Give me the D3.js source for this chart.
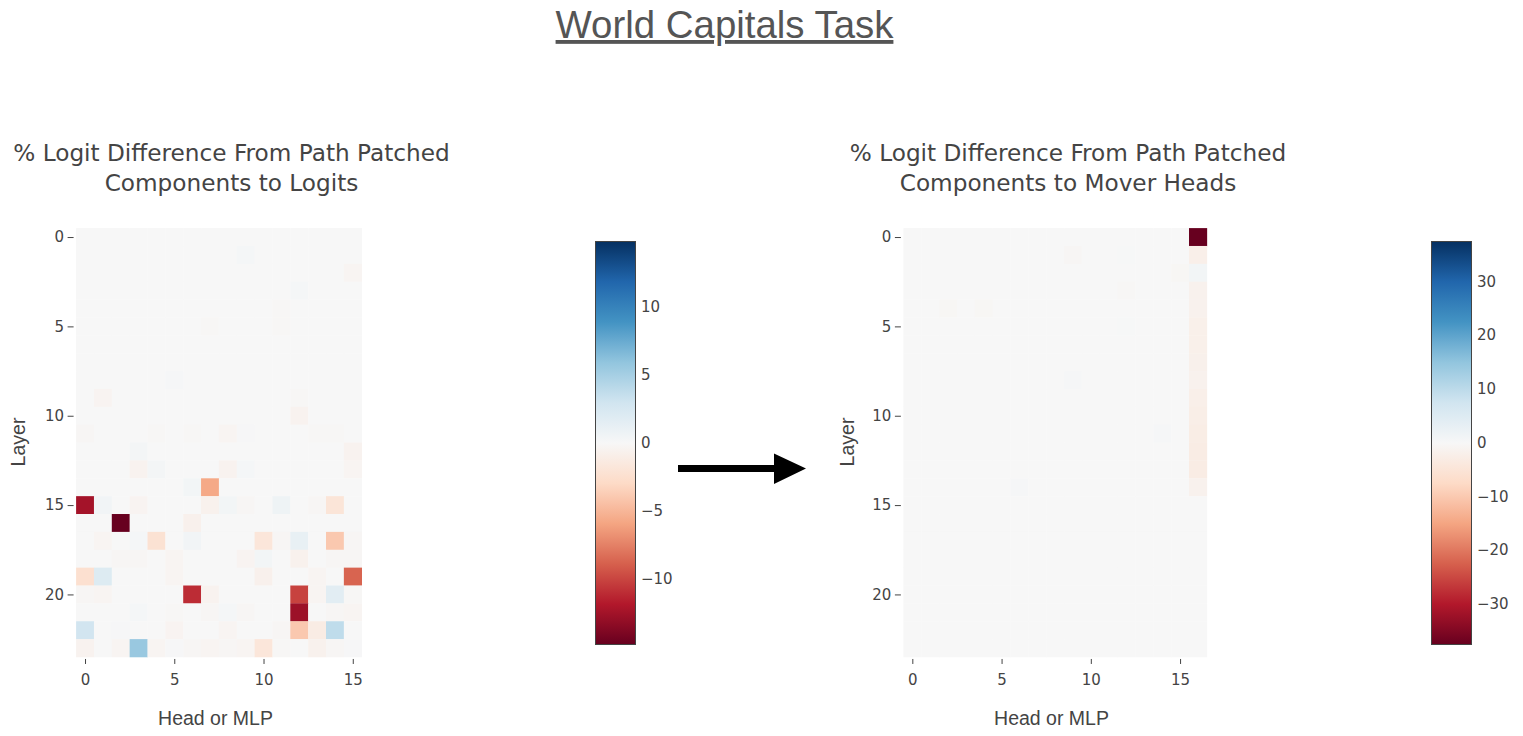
<!DOCTYPE html>
<html>
<head>
<meta charset="utf-8">
<script src="https://cdn.jsdelivr.net/npm/d3@7"></script>
<style>
  body { margin: 0; background: #fff; }
</style>
</head>
<body>
<div id="chart"></div>
<script>
// ---- data ----
var headTicks = [0, 5, 10, 15];
var layerTicks = [0, 5, 10, 15, 20];
var logitTicks = [-10, -5, 0, 5, 10];
var moverTicks = [-30, -20, -10, 0, 10, 20, 30];
var logitRange = 14.8;
var moverRange = 37.5;

// rows = layer 0..23, cols = head 0..15
var logitValues = [
  [0,0,0,0,0,0,0,0,0,0,0,0,0,0,0,0],
  [0,0,0,0,0,0,0,0,0,0.2,0,0,0,0,0,0],
  [0,0,0,0,0,0,0,0,0,0,0,0,0,0,0,-0.3],
  [0,0,0,0,0,0,0,0,0,0,0,0,0.2,0,0,0],
  [0,0,0,0,0,0,0,0,0,0,0,-0.1,0,0,0,0],
  [0,0,0,0,0,0,0,-0.1,0,0,0,-0.1,0,0,0,0],
  [0,0,0,0,0,0,0,0,0,0,0,0,0,0,0,0],
  [0,0,0,0,0,0,0,0,0,0,0,0,0,0,0,0],
  [0,0,0,0,0,0.15,0,0,0,0,0,0,0,0,0,0],
  [0,-0.4,0,0,0,0,0,0,0,0,0,0,-0.1,0,0,0],
  [0,0,0,0,0,0,0,0,0,0,0,0,-0.5,0,0,0],
  [-0.2,0,0,0,-0.1,0,-0.1,0,-0.3,0.1,0,0,0,-0.15,-0.15,0],
  [0,0,0,0.3,0,0,0,0,0,0,0,0,0,0,0,-0.5],
  [0,0,0,-0.5,0.3,0,0,0,-0.5,0.2,0,0,0,0,0,-0.3],
  [0,0,0,0,0,0,0.4,-5.7,0,0,0,0,0,0,0,0],
  [-12.4,0.5,0,-0.4,0,0,0,-0.6,0.4,-0.2,0,0.7,0,-0.2,-1.9,0],
  [0,0,-14.8,0,0,0,-0.7,0,0,0,0,0,0,0,0,0],
  [0,-0.3,0,0.2,-2.2,0,0.5,0,0,0,-1.8,-0.2,1.2,0,-4.0,-0.2],
  [0,0,-0.2,-0.2,0,-0.3,0,0,0,-0.4,0.4,0,-0.6,0,-0.2,-0.2],
  [-2.4,2.0,0,0,0,-0.3,0,0,0,0,-0.7,0,0,-0.3,0,-8.7],
  [-0.2,-0.3,0,0,0,0,-11.0,-0.5,0,0,0,0,-10.1,-0.3,1.6,-0.1],
  [0,0,0,0.2,0,-0.1,0,-0.2,0.2,-0.2,0,0,-12.7,0,-0.2,-0.3],
  [2.9,0,0.1,0,0,-0.4,0,0,-0.3,0,0,-0.2,-4.0,-1.2,3.8,0],
  [-0.5,0,-0.3,5.6,-0.3,0.1,-0.2,-0.3,-0.2,-0.3,-1.8,-0.1,0,-0.6,-0.2,0.1]
];

// rows = layer 0..23, cols = head 0..15 plus MLP (16)
var moverValues = [
  [0,0,0,0,0,0,0,0,0,0,0,0,0,0,0,0,-37.5],
  [0,0,0,0,0,0,0,0,0,-0.5,0,0,0.2,0,0,0,-2.2],
  [0,0,0,0,0,0,0,0,0,0,0,0,0,0,0,-0.4,0.9],
  [0,0,0,0,0,0,0,0,0,0,0,0,-0.3,0,0,0,-1.6],
  [0,0,-0.4,0,-0.4,0,0,0,0,0,0,0,0,0,0,0,-1.6],
  [0,0,0,0,0,0,0,0,0,0,0,0,0.2,0,0,0,-2.0],
  [0,0,0,0,0,0,0,0,0,0,0,0,0,0,0,0,-2.0],
  [0,0,0,0,0,0,0,0,0,0,0,0,0,0,0,0,-1.8],
  [0,0,0,0,0,0,0,0,0,0.3,0,0,0,0,0,0,-1.6],
  [0,0,0,0,0,0,0,0,0,0,0,0,0,0,0,0,-2.2],
  [0,0,0,0,0,0,0,0,0,0,0,0,0,0,0,0,-2.5],
  [0,0,0,0,0,0,0,0,0,0,0,0,0,0,0.3,0,-2.8],
  [0,0,0,0,0,0,0,0,0,0,0,0,0,0,0,0,-3.0],
  [0,0,0,0,0,0,0,0,0,0,0,0,0,0,0,0,-3.0],
  [0,0,0,0,0,0,0.4,0,0,0,0,0,0,0,0,0,-1.6],
  [0,0,0,0,0,0,0,0,0,0,0,0,0,0,0,0,0],
  [0,0,0,0,0,0,0,0,0,0,0,0,0,0,0,0,0],
  [0,0,0,0,0,0,0,0,0,0,0,0,0,0,0,0,0],
  [0,0,0,0,0,0,0,0,0,0,0,0,0,0,0,0,0],
  [0,0,0,0,0,0,0,0,0,0,0,0,0,0,0,0,0],
  [0,0,0,0,0,0,0,0,0,0,0,0,0,0,0,0,0],
  [0,0,0,0,0,0,0,0,0,0,0,0,0,0,0,0,0],
  [0,0,0,0,0,0,0,0,0,0,0,0,0,0,0,0,0],
  [0,0,0,0,0,0,0,0,0,0,0,0,0,0,0,0,0]
];

// ---- layout ----
var width = 1523, height = 736;
var tickFont = "'DejaVu Sans', Verdana, sans-serif";
var labelFont = "'Liberation Sans', Arial, sans-serif";
var cellW = 17.85, cellH = 17.87, heatTop = 228.1;

// plotly-style RdBu: linear between the 11 brewer stops
var rdbu = d3.piecewise(d3.interpolateRgb, d3.schemeRdBu[11]);

var svg = d3.select("#chart")
  .append("svg")
  .attr("width", width)
  .attr("height", height);

// main title
svg.append("text")
  .attr("x", 724.5)
  .attr("y", 38)
  .attr("text-anchor", "middle")
  .style("font-family", labelFont)
  .style("font-size", "38.4px")
  .style("fill", "#555")
  .style("text-decoration", "underline")
  .text("World Capitals Task");

function drawHeatmap(values, o) {
  var nRows = values.length, nCols = values[0].length;
  var x = d3.scaleLinear().domain([-0.5, nCols - 0.5]).range([o.x0, o.x0 + nCols * cellW]);
  var y = d3.scaleLinear().domain([-0.5, nRows - 0.5]).range([heatTop, heatTop + nRows * cellH]);
  var color = d3.scaleSequential(rdbu).domain([-o.zmax, o.zmax]);

  var g = svg.append("g");

  // cells
  var cells = [];
  values.forEach(function(row, r) {
    row.forEach(function(v, c) { cells.push({r: r, c: c, v: v}); });
  });
  g.selectAll("rect.cell")
    .data(cells)
    .enter()
    .append("rect")
    .attr("class", "cell")
    .attr("x", function(d) { return x(d.c - 0.5); })
    .attr("y", function(d) { return y(d.r - 0.5); })
    .attr("width", cellW + 0.3)
    .attr("height", cellH + 0.3)
    .attr("fill", function(d) { return color(d.v); });

  // x axis
  var xAxis = g.append("g")
    .attr("transform", "translate(0," + (y(nRows - 0.5) + 2) + ")")
    .call(d3.axisBottom(x).tickValues(headTicks).tickSize(5).tickPadding(10));
  xAxis.select(".domain").remove();

  // y axis
  var yAxis = g.append("g")
    .attr("transform", "translate(" + (o.x0 - 2.5) + ",0)")
    .call(d3.axisLeft(y).tickValues(layerTicks).tickSize(6).tickPadding(3.5));
  yAxis.select(".domain").remove();

  g.selectAll(".tick line").attr("stroke", "#444");
  g.selectAll(".tick text")
    .style("font-family", tickFont)
    .style("font-size", "15px")
    .attr("fill", "#444");

  // axis titles
  g.append("text")
    .attr("x", o.xTitleX)
    .attr("y", 725)
    .attr("text-anchor", "middle")
    .style("font-family", labelFont)
    .style("font-size", "19.5px")
    .style("fill", "#444")
    .text("Head or MLP");

  g.append("text")
    .attr("transform", "translate(" + o.yTitleX + ",442) rotate(-90)")
    .attr("text-anchor", "middle")
    .attr("dominant-baseline", "central")
    .style("font-family", labelFont)
    .style("font-size", "19.5px")
    .style("fill", "#444")
    .text("Layer");

  // subplot title
  var t = g.append("text")
    .attr("text-anchor", "middle")
    .style("font-family", tickFont)
    .style("font-size", "23.2px")
    .style("fill", "#444");
  o.title.forEach(function(line, i) {
    t.append("tspan").attr("x", o.titleX).attr("y", 161 + i * 29.7).text(line);
  });

  // colorbar
  var cb = {x: o.cbX, top: 241, bottom: 644, w: 40};
  var gradId = "grad" + o.cbX;
  var grad = svg.append("defs").append("linearGradient")
    .attr("id", gradId)
    .attr("x1", 0).attr("y1", 1).attr("x2", 0).attr("y2", 0);
  d3.range(0, 1.0001, 0.05).forEach(function(s) {
    grad.append("stop").attr("offset", s).attr("stop-color", rdbu(s));
  });
  g.append("rect")
    .attr("x", cb.x + 0.5)
    .attr("y", cb.top + 0.5)
    .attr("width", cb.w)
    .attr("height", cb.bottom - cb.top)
    .attr("fill", "url(#" + gradId + ")")
    .attr("stroke", "#444")
    .attr("stroke-width", 1);

  var cScale = d3.scaleLinear().domain([-o.zmax, o.zmax]).range([cb.bottom, cb.top]);
  var cAxis = g.append("g")
    .attr("transform", "translate(" + (cb.x + cb.w + 1) + ",0)")
    .call(d3.axisRight(cScale).tickValues(o.cbTicks).tickSize(0).tickPadding(5));
  cAxis.select(".domain").remove();
  cAxis.selectAll("text")
    .style("font-family", tickFont)
    .style("font-size", "15px")
    .attr("fill", "#444");
}

drawHeatmap(logitValues, {
  x0: 76.1, zmax: logitRange, cbX: 595, cbTicks: logitTicks,
  title: ["% Logit Difference From Path Patched", "Components to Logits"],
  titleX: 231.5, xTitleX: 215.5, yTitleX: 18
});

drawHeatmap(moverValues, {
  x0: 903.4, zmax: moverRange, cbX: 1431, cbTicks: moverTicks,
  title: ["% Logit Difference From Path Patched", "Components to Mover Heads"],
  titleX: 1068, xTitleX: 1051.5, yTitleX: 847
});

// arrow between the panels
svg.append("path")
  .attr("d", "M678,465 L774,465 L774,453.5 L806,468.5 L774,484 L774,472 L678,472 Z")
  .attr("fill", "#000");
</script>
</body>
</html>
